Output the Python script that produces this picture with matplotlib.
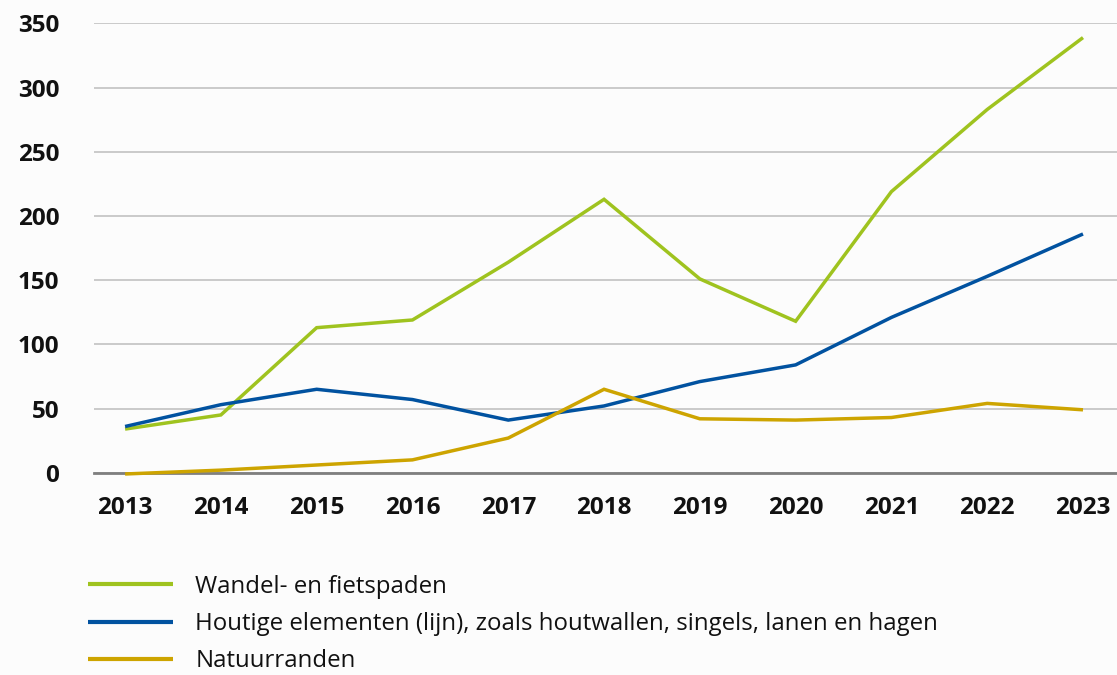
import matplotlib
matplotlib.use('Agg')
import matplotlib.pyplot as plt

# Data
years = [2013, 2014, 2015, 2016, 2017, 2018, 2019, 2020, 2021, 2022, 2023]
wandel_fietspaden = [34, 45, 113, 119, 164, 213, 151, 118, 219, 283, 339]
houtige_elementen = [36, 53, 65, 57, 41, 52, 71, 84, 121, 153, 186]
natuurranden = [-1, 2, 6, 10, 27, 65, 42, 41, 43, 54, 49]

series_labels = [
    'Wandel- en fietspaden',
    'Houtige elementen (lijn), zoals houtwallen, singels, lanen en hagen',
    'Natuurranden',
]
y_ticks = [0, 50, 100, 150, 200, 250, 300, 350]

colors = ['#9fc31f', '#0152a0', '#cda400']
bg = '#fcfcfc'

fig = plt.figure(figsize=(11.17, 6.75), dpi=100, facecolor=bg)
ax = fig.add_axes([0.0842, 0.2997, 1 - 0.0842, 0.9652 - 0.2997])
ax.set_facecolor(bg)

for vals, c, lab in zip([wandel_fietspaden, houtige_elementen, natuurranden], colors, series_labels):
    ax.plot(years, vals, color=c, lw=2.5, label=lab, clip_on=False,
            solid_joinstyle='miter', solid_capstyle='butt', zorder=3)

ax.set_xlim(2012.676, 2023.355)
ax.set_ylim(0, 350)
ax.set_yticks(y_ticks)
ax.set_xticks(years)
ax.set_xticklabels([str(y) for y in years])

ax.grid(axis='y', color='#c6c6c6', lw=1.3, zorder=0)
ax.grid(axis='x', visible=False)
for side in ['top', 'right', 'left']:
    ax.spines[side].set_visible(False)
ax.spines['bottom'].set_color('#7f7f7f')
ax.spines['bottom'].set_linewidth(2)
ax.spines['bottom'].set_zorder(2)

ax.tick_params(axis='both', length=0)
ax.tick_params(axis='y', pad=25)
ax.tick_params(axis='x', pad=17)
for t in ax.get_xticklabels() + ax.get_yticklabels():
    t.set_fontfamily(['Open Sans', 'DejaVu Sans'])
    t.set_fontweight('bold')
    t.set_fontsize(17.5)
    t.set_color('#111111')

# legend sits below the plot, three rows
leg = fig.legend(loc='upper left', bbox_to_anchor=(88 / 1117, 0.1485),
                 frameon=False, borderpad=0, borderaxespad=0,
                 handlelength=3.54, handletextpad=0.92, labelspacing=0.55,
                 prop={'family': ['Open Sans', 'DejaVu Sans'], 'size': 17.3})
for line in leg.get_lines():
    line.set_linewidth(3)
for t in leg.get_texts():
    t.set_color('#111111')

fig.savefig('out.png', dpi=100, facecolor=bg)
